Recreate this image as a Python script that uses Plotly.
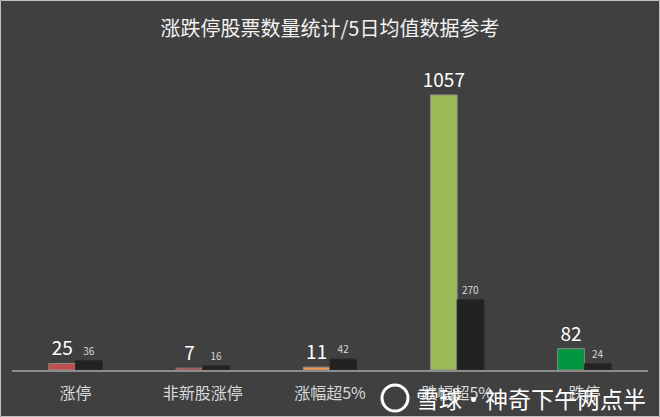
import plotly.graph_objects as go

# categories and values
categories = ['涨停', '非新股涨停', '涨幅超5%', '跌幅超5%', '跌停']
today_counts = [25, 7, 11, 1057, 82]
avg_5d = [36, 16, 42, 270, 24]
bar_colors = ['#c0504d', '#d0202a', '#f79646', '#9bbb59', '#00953f']

FONT = 'Noto Sans CJK SC, Microsoft YaHei, sans-serif'
W, H = 660, 417
ML, MR, MT, MB = 12, 12, 60, 47

fig = go.Figure()
fig.add_trace(go.Bar(x=categories, y=today_counts, name='当日',
                     marker=dict(color=bar_colors, line=dict(color='#8a8a8a', width=1)),
                     text=today_counts, textposition='outside', cliponaxis=False,
                     constraintext='none',
                     textfont=dict(color='#ffffff', size=19, family=FONT)))
fig.add_trace(go.Bar(x=categories, y=avg_5d, name='5日均值',
                     marker=dict(color='#222222', line=dict(color='#2a2a2a', width=1)),
                     text=avg_5d, textposition='outside', cliponaxis=False,
                     constraintext='none',
                     textfont=dict(color='#d9d9d9', size=10, family=FONT)))

pw = W - ML - MR
ph = H - MT - MB
fig.update_layout(
    width=W, height=H,
    margin=dict(l=ML, r=MR, t=MT, b=MB),
    paper_bgcolor='#404040', plot_bgcolor='#404040',
    barmode='group', bargap=0.58, bargroupgap=0.0,
    showlegend=False,
    font=dict(family=FONT, color='#d9d9d9'),
    title=dict(text='涨跌停股票数量统计/5日均值数据参考', x=0.5, xanchor='center',
               y=0.93, yanchor='middle',
               font=dict(size=20, color='#f2f2f2', family=FONT)),
    xaxis=dict(showline=True, linecolor='#8c8c8c', linewidth=1.5, ticks='',
               showgrid=False, tickfont=dict(size=16, color='#d9d9d9', family=FONT),
               ticklabelstandoff=8),
    yaxis=dict(visible=False, range=[0, 1191], showgrid=False, zeroline=False),
    shapes=[
        dict(type='rect', xref='paper', yref='paper',
             x0=-(ML - 0.5) / pw, x1=1 + (MR - 0.5) / pw,
             y0=-(MB - 0.5) / ph, y1=1 + (MT - 0.5) / ph,
             line=dict(color='#bfbfbf', width=1)),
        # watermark logo circle
        dict(type='circle', xref='paper', yref='paper',
             x0=(382 - ML) / pw, x1=(408 - ML) / pw,
             y0=-(411 - MT - ph) / ph, y1=-(385 - MT - ph) / ph,
             line=dict(color='#ffffff', width=3)),
    ],
    annotations=[
        dict(text='雪球·神奇下午两点半', xref='paper', yref='paper',
             x=(648 - ML) / pw, y=-(398 - MT - ph) / ph,
             xanchor='right', yanchor='middle', showarrow=False,
             font=dict(size=23, color='#ffffff', family=FONT)),
    ],
)

fig.write_html('out.html', config={'displayModeBar': False},
               post_script="document.body.style.margin='0';")
